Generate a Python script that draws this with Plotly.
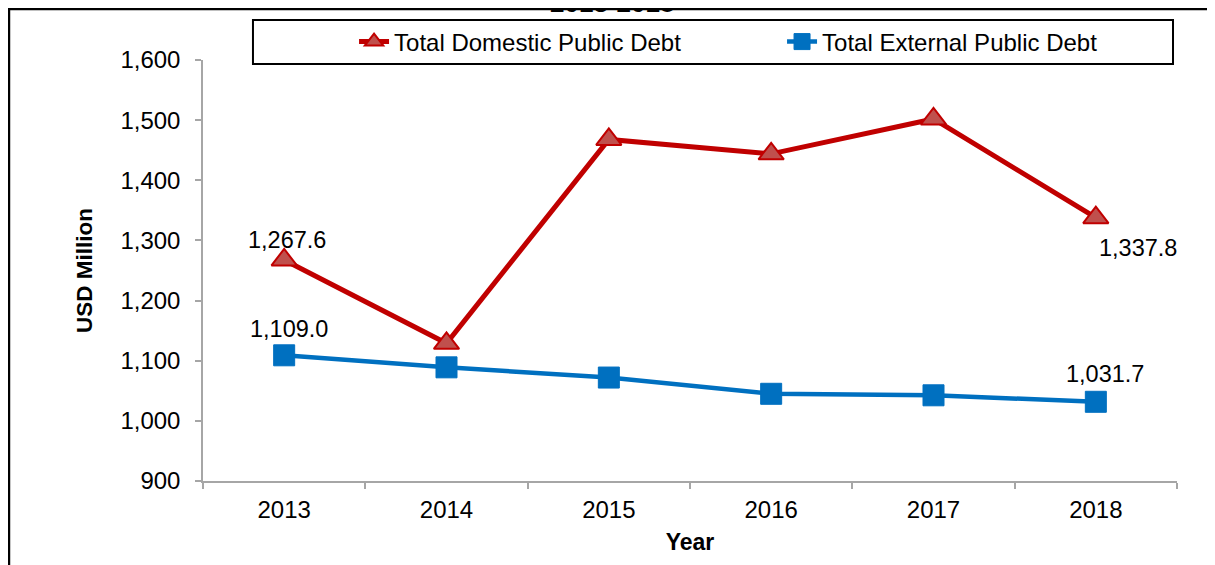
import plotly.graph_objects as go

years = ['2013', '2014', '2015', '2016', '2017', '2018']
domestic_debt = [1267.6, 1129.0, 1468.0, 1444.0, 1502.0, 1337.8]
external_debt = [1109.0, 1089.0, 1072.0, 1045.0, 1042.5, 1031.7]

y_ticks = [900, 1000, 1100, 1200, 1300, 1400, 1500, 1600]

font = 'Liberation Sans, Arial, sans-serif'
axis_grey = '#A6A6A6'

fig = go.Figure()

fig.add_trace(go.Scatter(
    x=years, y=domestic_debt, mode='lines+markers', name='Total Domestic Public Debt',
    line=dict(color='#C00000', width=5),
    marker=dict(symbol='triangle-up', size=22, color='#C0504D', line=dict(color='#C00000', width=2)),
))
fig.add_trace(go.Scatter(
    x=years, y=external_debt, mode='lines+markers', name='Total External Public Debt',
    line=dict(color='#0070C0', width=4.5),
    marker=dict(symbol='square', size=21, color='#0070C0', line=dict(color='#0070C0', width=1)),
))

# data labels on first and last points (category index used for x)
first, last = 0, len(years) - 1
labels = [
    (first, domestic_debt[first], 3, 20),
    (last, domestic_debt[last], 42, -30),
    (first, external_debt[first], 5, 26),
    (last, external_debt[last], 9, 28),
]
for x, y, dx, dy in labels:
    fig.add_annotation(x=x, y=y, text=f'{y:,.1f}', showarrow=False,
                       xshift=dx, yshift=dy, font=dict(size=23.5, color='black', family=font))

# chart title, cut off at the top of the picture
fig.add_annotation(xref='paper', yref='paper', x=0.42, y=1.135, text='<b>2013-2018</b>',
                   showarrow=False, yanchor='middle', font=dict(size=26, color='black', family=font))

# outer frame and legend box
fig.add_shape(type='rect', xref='paper', yref='paper', x0=-0.1992, x1=1.2, y0=-0.4, y1=1.1211,
              line=dict(color='black', width=2.5), layer='below')
fig.add_shape(type='rect', xref='paper', yref='paper', x0=0.0513, x1=0.9959, y0=0.9905, y1=1.095,
              line=dict(color='black', width=2))

fig.update_layout(
    width=1215, height=565,
    margin=dict(l=195, r=46, t=52, b=92, autoexpand=False),
    paper_bgcolor='white', plot_bgcolor='white',
    font=dict(family=font, size=24, color='black'),
    showlegend=True,
    legend=dict(orientation='h', x=0.5945, xanchor='center', y=1.0428, yanchor='middle',
                bgcolor='rgba(0,0,0,0)', borderwidth=0, font=dict(size=24),
                entrywidth=383, entrywidthmode='pixels'),
    xaxis=dict(
        title=dict(text='<b>Year</b>', font=dict(size=23), standoff=12),
        type='category', range=[-0.5, 5.5], automargin=False,
        showline=True, linecolor=axis_grey, linewidth=1.5,
        ticks='outside', tickson='boundaries', ticklen=6, tickcolor=axis_grey, tickwidth=1.5,
        ticklabelstandoff=6, showgrid=False, zeroline=False,
    ),
    yaxis=dict(
        title=dict(text='<b>USD Million</b>', font=dict(size=22.5), standoff=22),
        range=[900, 1600], tickvals=y_ticks, tickformat=',', automargin=False,
        showline=True, linecolor=axis_grey, linewidth=1.5,
        ticks='outside', ticklen=6, tickcolor=axis_grey, tickwidth=1.5,
        ticklabelstandoff=10, showgrid=False, zeroline=False,
    ),
)

fig.write_html('out.html')
